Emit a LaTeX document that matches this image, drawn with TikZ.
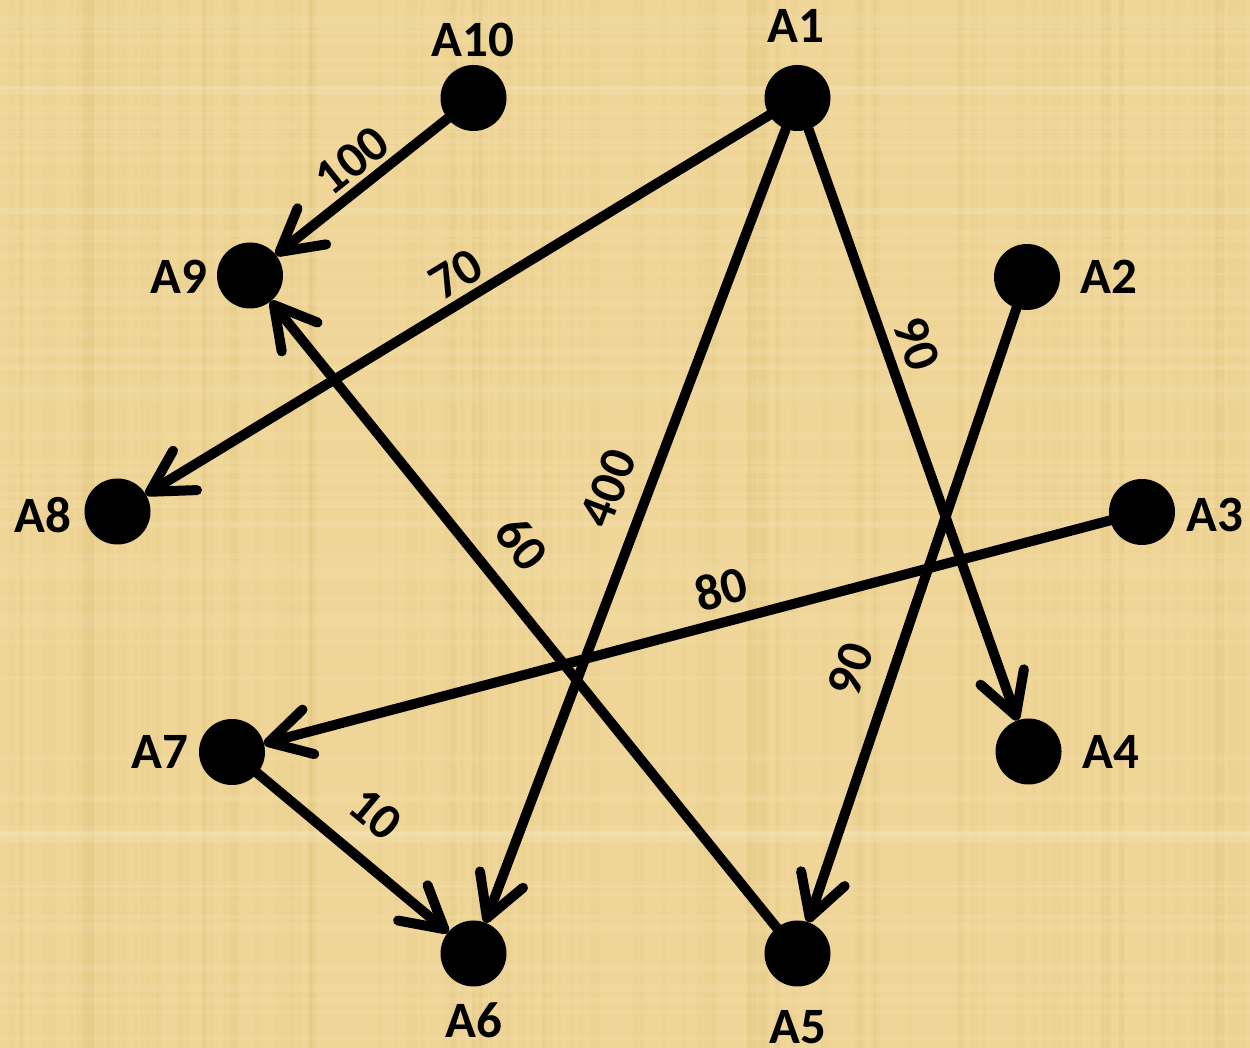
\documentclass[tikz,border=0pt]{standalone}
\usepackage{fontspec}
\setmainfont{Carlito}
\usetikzlibrary{arrows.meta,positioning}
\definecolor{papyrus}{RGB}{239,214,152}
\definecolor{papyrusDark}{RGB}{214,182,104}
\definecolor{papyrusLight}{RGB}{250,234,192}
\tikzset{
  dot/.style={circle,fill=black,inner sep=0pt,outer sep=0pt,minimum size=1.32cm},
  name tag/.style={inner sep=0pt,font=\fontsize{29}{34}\selectfont\bfseries},
  link/.style={line width=0.2cm,line cap=round,
    -{Straight Barb[length=0.82cm,width=0.92cm,round]}},
  weight/.style={sloped,above=#1,inner sep=0pt,font=\fontsize{29}{34}\selectfont\bfseries},
  weight/.default=0.1cm
}

\begin{document}
\begin{tikzpicture}
  % papyrus background
  \useasboundingbox (0,0) rectangle (25,20.96);
  \fill[papyrus] (0,0) rectangle (25,20.96);
  \pgfmathsetseed{42}
  \foreach \k in {1,...,110}{
    \pgfmathsetmacro{\sx}{24.7*rnd}
    \pgfmathsetmacro{\sw}{0.03+0.2*rnd}
    \fill[papyrusDark,opacity=0.1] (\sx,0) rectangle ++(\sw,20.96);
  }
  \foreach \k in {1,...,80}{
    \pgfmathsetmacro{\sy}{20.6*rnd}
    \pgfmathsetmacro{\sh}{0.03+0.15*rnd}
    \fill[papyrusLight,opacity=0.15] (0,\sy) rectangle ++(25,\sh);
  }

  % vertices and their names
  \foreach \n/\x/\y/\lx/\ly/\t in {
      a1/15.95/19.00/15.92/20.44/A1,
      a2/20.54/15.42/22.18/15.42/A2,
      a3/22.84/10.72/24.30/10.66/A3,
      a4/20.57/5.93/22.22/5.92/A4,
      a5/15.95/1.89/15.95/0.42/A5,
      a6/9.47/1.89/9.47/0.56/A6,
      a7/4.64/5.92/3.20/5.92/A7,
      a8/2.35/10.73/0.86/10.66/A8,
      a9/5.00/15.45/3.58/15.42/A9,
      a10/9.47/19.00/9.46/20.16/A10}{
    \node[dot] (\n) at (\x,\y) {};
    \node[name tag] (\n-tag) at (\lx,\ly) {\t};
  }

  % weighted arcs
  \draw[link] (a10) -- node[weight=0.1cm,pos=0.46] {100} (a9);
  \draw[link] (a1) -- node[weight=0.1cm,pos=0.48] {70} (a8);
  \draw[link] (a1) -- node[weight=0.34cm,pos=0.47] {400} (a6);
  \draw[link] (a1) -- node[weight=0.18cm,pos=0.38] {90} (a4);
  \draw[link] (a2) -- node[weight=0.38cm,pos=0.61] {90} (a5);
  \draw[link] (a3) -- node[weight=0.2cm,pos=0.45] {80} (a7);
  \draw[link] (a5) -- node[weight=0.42cm,pos=0.57] {60} (a9);
  \draw[link] (a7) -- node[weight=0.45cm,pos=0.47] {10} (a6);
\end{tikzpicture}
\end{document}
